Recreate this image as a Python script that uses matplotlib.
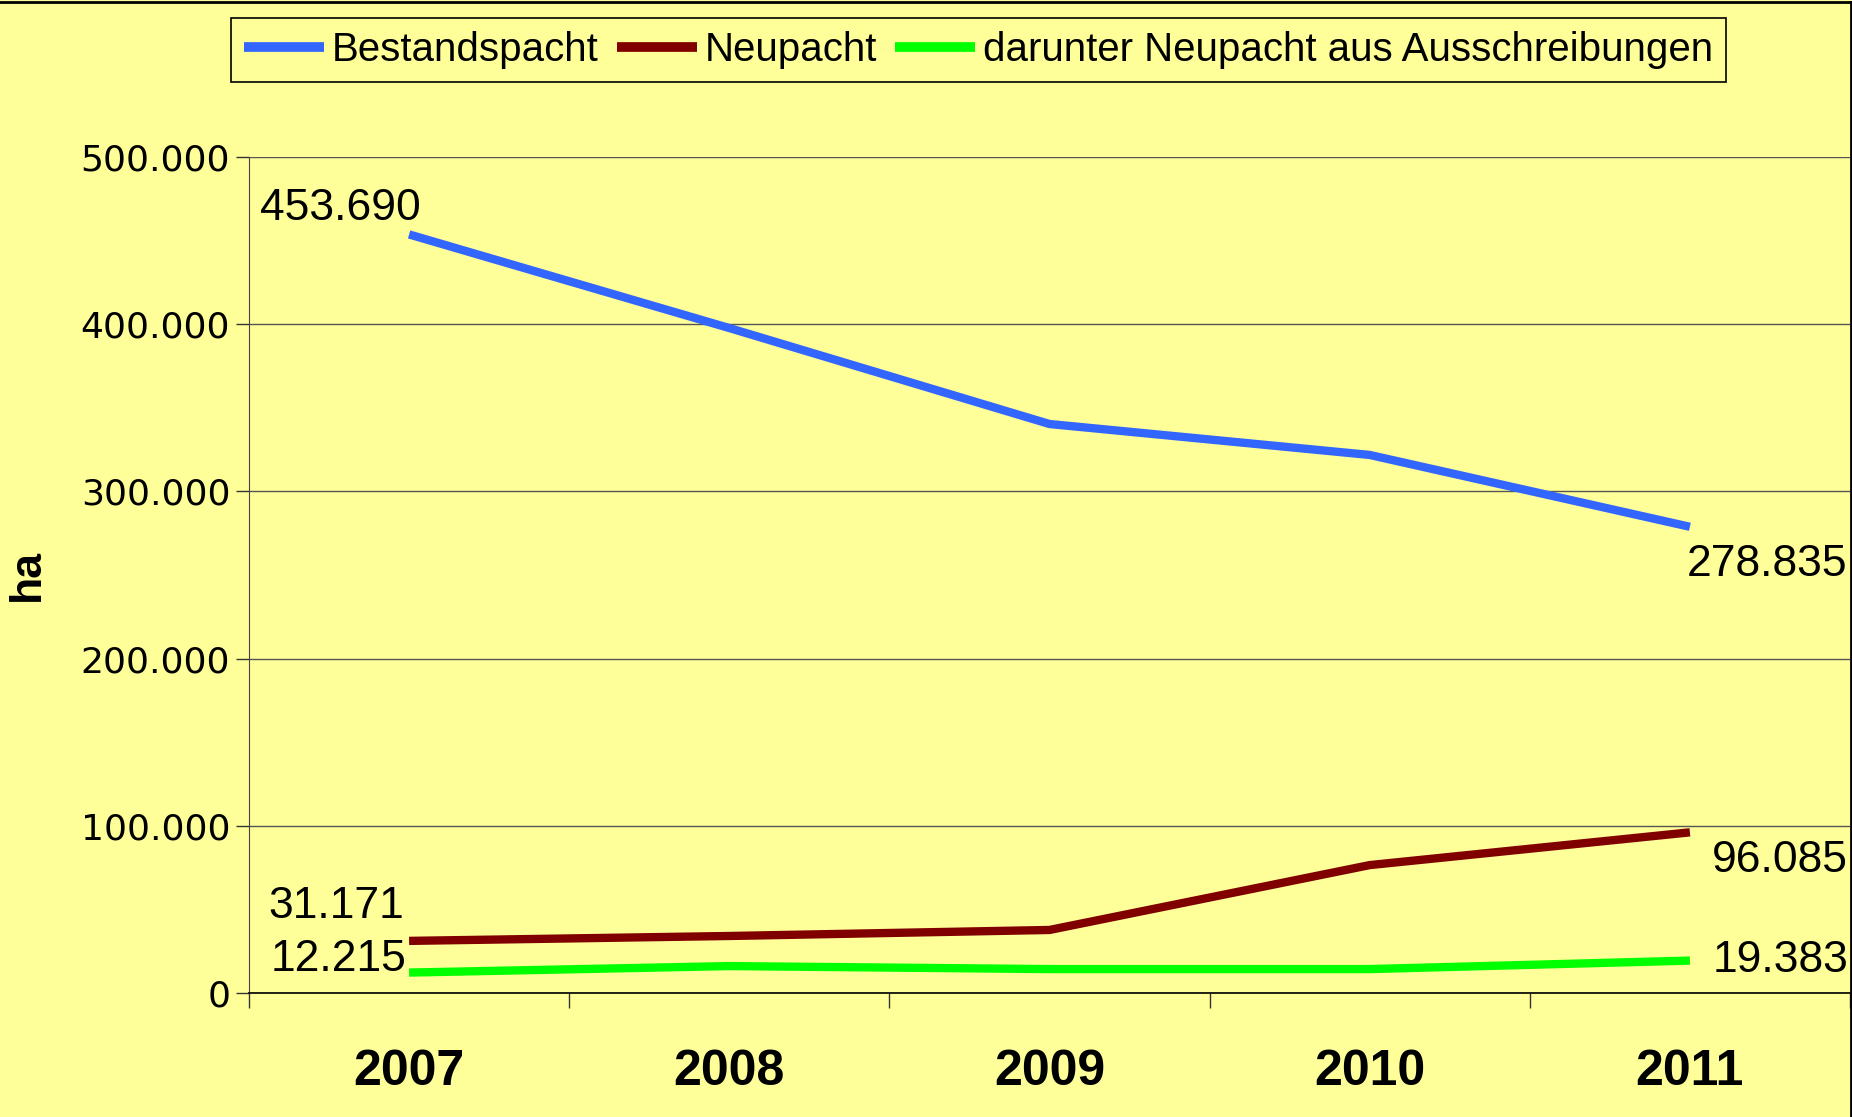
import matplotlib
matplotlib.use("Agg")
import matplotlib.pyplot as plt
from matplotlib.lines import Line2D
import numpy as np

years = ["2007", "2008", "2009", "2010", "2011"]
bestandspacht = [453690, 397700, 340300, 321800, 278835]
neupacht = [31171, 34100, 37700, 76500, 96085]
ausschreibungen = [12215, 16100, 14300, 14300, 19383]
series_names = ["Bestandspacht", "Neupacht", "darunter Neupacht aus Ausschreibungen"]
y_ticks = [0, 100000, 200000, 300000, 400000, 500000]
y_tick_labels = ["0", "100.000", "200.000", "300.000", "400.000", "500.000"]

def fmt(v):
    return f"{v:,}".replace(",", ".")

BG = "#FFFF99"
W, H = 1852, 1117
fig = plt.figure(figsize=(W / 100, H / 100), dpi=100, facecolor=BG)
ax = fig.add_axes([249 / W, 1 - 993 / H, (1850 - 249) / W, (993 - 157) / H])
ax.set_facecolor(BG)

x = np.arange(len(years))
colors = ["#3366FF", "#800000", "#00FF00"]
lw = 6
for vals, c, name in zip([bestandspacht, neupacht, ausschreibungen], colors, series_names):
    ax.plot(x, vals, color=c, lw=lw, solid_joinstyle="miter", solid_capstyle="butt", label=name, zorder=3)

ax.set_xlim(-0.5, 4.5)
ax.set_ylim(0, 500000)
ax.set_yticks(y_ticks)
ax.set_yticklabels(y_tick_labels, fontfamily="DejaVu Sans", fontsize=26)
ax.tick_params(axis="y", direction="out", length=9.5, width=1, color="#333333", pad=4)
ax.grid(axis="y", color="#555555", lw=1.0, zorder=1)

ax.set_xticks(x)
ax.set_xticklabels(years, fontfamily="Liberation Sans", fontweight="bold", fontsize=36)
ax.tick_params(axis="x", which="major", length=0, pad=40)
ax.set_xticks(np.arange(-0.5, 5.0, 1.0), minor=True)
ax.tick_params(axis="x", which="minor", direction="out", length=11, width=1, color="#333333")

for s in ["top", "right"]:
    ax.spines[s].set_visible(False)
ax.spines["left"].set_color("#444444")
ax.spines["left"].set_bounds(0, 500000)
ax.spines["bottom"].set_color("black")
ax.spines["bottom"].set_linewidth(1.2)

# data labels
lab_font = dict(fontfamily="Liberation Sans", fontsize=32, ha="center", va="center")
def lab(xi, v, dx, dy):
    ax.annotate(fmt(v), (xi, v), xytext=(dx * 0.72, dy * 0.72), textcoords="offset points", **lab_font)

lab(0, bestandspacht[0], -69, 26)
lab(0, neupacht[0], -73, 34)
lab(0, ausschreibungen[0], -71, 13)
lab(4, bestandspacht[4], 77, -38)
lab(4, neupacht[4], 90, -28)
lab(4, ausschreibungen[4], 91, 0)

fig.text(27 / W, 1 - 575 / H, "ha", rotation=90, fontfamily="Liberation Sans",
         fontweight="bold", fontsize=32, ha="center", va="center")

leg = fig.legend(loc="upper left", bbox_to_anchor=(231 / W, 1 - 18 / H), ncol=3,
                 prop={"family": "Liberation Sans", "size": 29}, frameon=True,
                 fancybox=False, edgecolor="black", facecolor=BG, framealpha=1,
                 handlelength=2.0, handletextpad=0.18, columnspacing=0.45,
                 borderpad=0.32, borderaxespad=0)
leg.get_frame().set_linewidth(1.2)
for h in leg.get_lines():
    h.set_linewidth(7)

# chart area border (top and right)
fig.add_artist(Line2D([0, 1850.5 / W], [1 - 2 / H, 1 - 2 / H], color="black", lw=2, transform=fig.transFigure))
fig.add_artist(Line2D([1850.5 / W, 1850.5 / W], [0, 1 - 2 / H], color="black", lw=2, transform=fig.transFigure))

fig.savefig("out.png", dpi=100, facecolor=BG)
